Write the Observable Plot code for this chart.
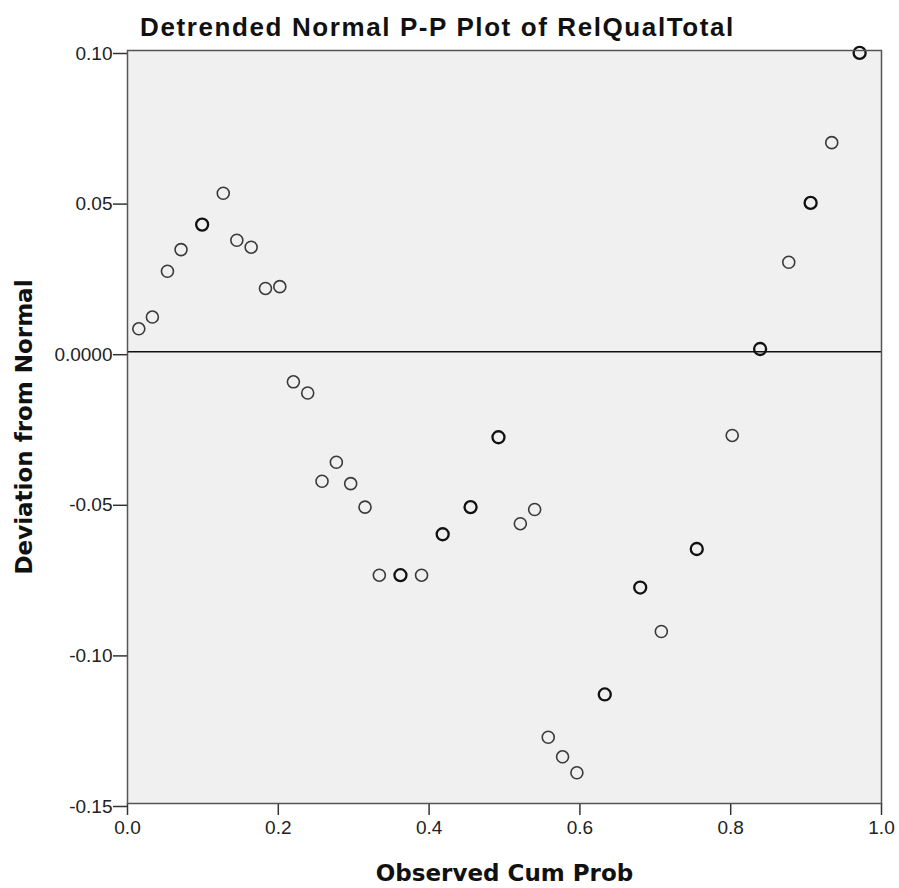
<!DOCTYPE html>
<html>
<head>
<meta charset="utf-8">
<script src="https://cdn.jsdelivr.net/npm/d3@7"></script>
<script src="https://cdn.jsdelivr.net/npm/@observablehq/plot@0.6"></script>
<style>
  html, body { margin: 0; padding: 0; background: #fff; }
  #title {
    width: 899px; height: 44px; line-height: 54px; box-sizing: border-box;
    padding-right: 24px; text-align: center; overflow: visible;
    font-family: "Liberation Sans", Arial, sans-serif; font-weight: bold;
    font-size: 26px; letter-spacing: 1.6px; color: #111; white-space: nowrap;
  }
  #chart svg { display: block; }
</style>
</head>
<body>
<div id="title">Detrended Normal P-P Plot of RelQualTotal</div>
<div id="chart"></div>
<script>
// Observed cumulative probability (x) and deviation from normal (y)
const obsCumProb = [0.015, 0.033, 0.053, 0.071, 0.099, 0.127, 0.145, 0.164, 0.183, 0.202,
  0.220, 0.239, 0.258, 0.277, 0.296, 0.315, 0.334, 0.362, 0.390, 0.418,
  0.455, 0.492, 0.521, 0.540, 0.558, 0.577, 0.596, 0.633, 0.680, 0.708,
  0.755, 0.802, 0.839, 0.877, 0.906, 0.934, 0.971];
const deviation = [0.0076, 0.0115, 0.0267, 0.0339, 0.0422, 0.0526, 0.0370, 0.0347, 0.0210, 0.0216,
  -0.0100, -0.0137, -0.0430, -0.0367, -0.0438, -0.0516, -0.0742, -0.0742, -0.0742, -0.0606,
  -0.0516, -0.0284, -0.0571, -0.0524, -0.1280, -0.1345, -0.1398, -0.1138, -0.0783, -0.0929,
  -0.0655, -0.0278, 0.0009, 0.0297, 0.0494, 0.0694, 0.0992];
// tied cases (drawn with heavier outlines)
const tied = [false, false, false, false, true, false, false, false, false, false,
  false, false, false, false, false, false, false, true, false, true,
  true, true, false, false, false, false, false, true, true, false,
  true, false, true, false, true, false, true];

const xTicks = [0, 0.2, 0.4, 0.6, 0.8, 1.0];
const xTickLabels = ["0.0", "0.2", "0.4", "0.6", "0.8", "1.0"];
const yTicks = [0.10, 0.05, 0, -0.05, -0.10, -0.15];
const yTickLabels = ["0.10", "0.05", "0.0000", "-0.05", "-0.10", "-0.15"];
const xTitle = "Observed Cum Prob";
const yTitle = "Deviation from Normal";

const points = obsCumProb.map((x, i) => ({x, y: deviation[i], tied: tied[i]}));

const chart = Plot.plot({
  width: 899,
  height: 844,
  marginTop: 6,
  marginBottom: 85,
  marginLeft: 127,
  marginRight: 18,
  style: {fontFamily: "'Liberation Sans', Arial, sans-serif", fontSize: "19px", color: "#222", background: "#fff"},
  x: {domain: [0, 1]},
  y: {domain: [-0.15, 0.10]},
  marks: [
    Plot.frame({fill: "#f0f0f0", stroke: null}),
    Plot.axisX({ticks: xTicks, tickFormat: (d) => xTickLabels[xTicks.indexOf(d)], tickSize: 12, tickPadding: 5, label: null, stroke: "#333", strokeWidth: 1.5, fontSize: 19}),
    Plot.axisY({ticks: yTicks, tickFormat: (d) => yTickLabels[yTicks.indexOf(d)], tickSize: 14, tickPadding: 1, dy: 3, label: null, stroke: "#333", strokeWidth: 1.5, fontSize: 19}),
    Plot.ruleY([0], {stroke: "#111", strokeWidth: 1.6}),
    Plot.dot(points.filter(d => !d.tied), {x: "x", y: "y", r: 6, stroke: "#3a3a3a", strokeWidth: 1.6, fill: "none"}),
    Plot.dot(points.filter(d => d.tied), {x: "x", y: "y", r: 6, stroke: "#111", strokeWidth: 2.3, fill: "none"}),
    Plot.frame({stroke: "#555", strokeWidth: 1.5}),
    Plot.text([xTitle], {frameAnchor: "bottom", textAnchor: "middle", lineAnchor: "middle", dy: 70, fontFamily: "'DejaVu Sans', Verdana, sans-serif", fontWeight: "bold", fontSize: 23, fill: "#111"}),
    Plot.text([yTitle], {frameAnchor: "left", textAnchor: "middle", lineAnchor: "middle", dx: -103, rotate: -90, fontFamily: "'DejaVu Sans', Verdana, sans-serif", fontWeight: "bold", fontSize: 23, fill: "#111"})
  ]
});
document.getElementById("chart").appendChild(chart);
</script>
</body>
</html>
